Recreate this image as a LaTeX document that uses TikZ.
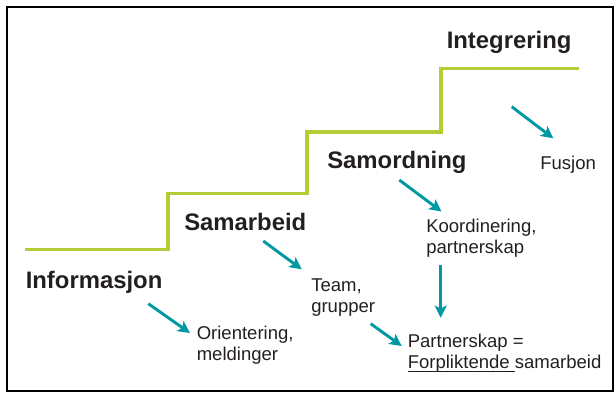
\documentclass[tikz,border=0pt]{standalone}
\usepackage{fontspec}
\setmainfont{Liberation Sans}
\usetikzlibrary{arrows.meta}
\definecolor{trappgronn}{RGB}{181,204,54}
\definecolor{pilbla}{RGB}{0,152,163}
\definecolor{tekstgraa}{RGB}{35,31,32}
\newcommand{\ulined}[1]{\setbox0\hbox{#1}\rlap{\rule[-2.6pt]{\wd0}{0.7pt}}\box0}

\begin{document}
\begin{tikzpicture}[x=0.75pt,y=0.75pt,yscale=-1,xscale=1,
		trinn/.style={draw=trappgronn,line width=2.5pt},
		niva/.style={anchor=base west,inner sep=0pt,text=tekstgraa,font=\fontsize{17.9}{21}\selectfont\bfseries},
		forklaring/.style={anchor=base west,inner sep=0pt,text=tekstgraa,align=left,font=\fontsize{13.9}{16.1}\selectfont},
		pil/.style={draw=pilbla,line width=2.2pt,-{Stealth[length=9pt,width=9pt,inset=2pt]}}]
		\useasboundingbox (0,0) rectangle (615,394);
		% ramme
		\draw [line width=1.5pt] (7,7) rectangle (613,391) ;
		% trappen
		\draw [trinn] (25,249.5) -- (168,249.5) -- (168,193.3) -- (307,193.3) -- (307,132) -- (441,132) -- (441,68.3) -- (579,68.3) ;
		% nivaene
		\node [niva] (integ) at (446.5,48.5) {Integrering};
		\node [niva] (samord) at (327,168.3) {Samordning};
		\node [niva] (samarb) at (184,230.3) {Samarbeid};
		\node [niva] (info) at (25.5,288.7) {Informasjon};
		% forklaringer (base = siste linje)
		\node [forklaring] (fusjon) at (540,169.3) {Fusjon};
		\node [forklaring] (koord) at (426,253.7) {Koordinering,\\partnerskap};
		\node [forklaring] (team) at (311,312.5) {Team,\\grupper};
		\node [forklaring] (orient) at (196.5,360.5) {Orientering,\\meldinger};
		\node [forklaring] (partner) at (407.5,368.5) {Partnerskap =\\\ulined{Forpliktende\ }samarbeid};
		% piler
		\coordinate (integ-ut) at (511.7,106.7);
		\coordinate (fusjon-inn) at (553.3,138.3);
		\coordinate (samord-ut) at (399.3,180);
		\coordinate (koord-inn) at (441.5,211.5);
		\coordinate (samarb-ut) at (263.3,241);
		\coordinate (team-inn) at (301.7,269.3);
		\coordinate (info-ut) at (148.3,303.7);
		\coordinate (orient-inn) at (190,333);
		\coordinate (team-ut) at (370.7,323.7);
		\coordinate (partner-inn) at (401.7,346);
		\coordinate (koord-ut) at (440.7,265.3);
		\coordinate (partner-topp) at (440.7,317.7);
		\draw [pil] (integ-ut) -- (fusjon-inn) ;
		\draw [pil] (samord-ut) -- (koord-inn) ;
		\draw [pil] (samarb-ut) -- (team-inn) ;
		\draw [pil] (info-ut) -- (orient-inn) ;
		\draw [pil] (team-ut) -- (partner-inn) ;
		\draw [pil] (koord-ut) -- (partner-topp) ;
\end{tikzpicture}
\end{document}
